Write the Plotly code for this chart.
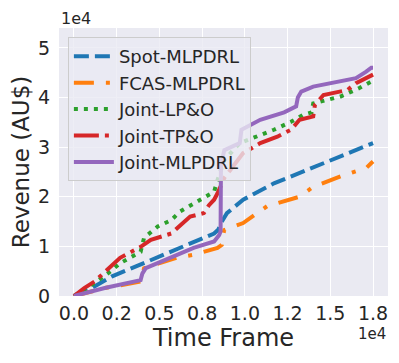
import plotly.graph_objects as go

# time frame and revenue (AU$)
spot_t = [0, 1200, 2200, 4100, 6000, 8200, 8450, 8600, 8950, 9900, 11700, 13600, 15600, 17500]
spot_v = [0, 1900, 3900, 6600, 9300, 12600, 13400, 14700, 16700, 19400, 22700, 25400, 28100, 30800]

fcas_t = [0, 1800, 3900, 4000, 4100, 6000, 7000, 8400, 8650, 8700, 8800, 9900, 10700, 11300,
          13200, 14000, 15600, 17100, 17400, 17500]
fcas_v = [0, 1600, 2900, 4500, 5600, 7700, 8300, 9700, 10300, 12000, 13300, 14700, 16700, 18100,
          20000, 22000, 24100, 25800, 26800, 27100]

lpo_t = [0, 1200, 2000, 2700, 3900, 4100, 4900, 5700, 6200, 7200, 8000, 8200, 8400, 8600, 8800,
         9700, 10700, 11700, 12700, 13400, 13900, 14000, 15600, 16700, 17500]
lpo_v = [0, 2600, 4600, 6600, 8900, 11700, 14000, 15300, 17000, 19000, 20700, 21000, 23400, 25500,
         27400, 30800, 32100, 33500, 35100, 36500, 37000, 38800, 40200, 41900, 43400]

tpo_t = [0, 600, 1200, 2700, 3900, 4500, 5700, 6800, 7600, 7900, 8200, 8400, 8800, 9900, 10900,
         11900, 12700, 13200, 14000, 14100, 14600, 16000, 16500, 17500]
tpo_v = [0, 1600, 2900, 7700, 9900, 11300, 12600, 16000, 16700, 18300, 19400, 20700, 23800, 28800,
         30800, 32100, 33500, 35500, 36200, 38500, 40500, 41500, 42900, 44600]

mlp_t = [0, 1800, 3900, 4000, 4200, 5100, 7000, 8200, 8500, 8580, 8600, 8800, 9700, 9800, 10900,
         12300, 13000, 13100, 13300, 14000, 16500, 17100, 17400, 17500]
mlp_v = [0, 1600, 3200, 4500, 5600, 6900, 9700, 11000, 12300, 13000, 26500, 29400, 30800, 33500,
         35500, 37000, 38200, 40000, 41200, 42200, 43900, 45200, 46000, 46000]

x_ticks = [0, 2500, 5000, 7500, 10000, 12500, 15000, 17500]
x_labels = ["0.0", "0.2", "0.5", "0.8", "1.0", "1.2", "1.5", "1.8"]
y_ticks = [0, 10000, 20000, 30000, 40000, 50000]
y_labels = ["0", "1", "2", "3", "4", "5"]

series = [
    ("Spot-MLPDRL", spot_t, spot_v, "#1f77b4", "15px,6px"),
    ("FCAS-MLPDRL", fcas_t, fcas_v, "#ff7f0e", "20px,12px,4px,12px"),
    ("Joint-LP&O", lpo_t, lpo_v, "#2ca02c", "4px,6px"),
    ("Joint-TP&O", tpo_t, tpo_v, "#d62728", "25px,6px,4px,6px"),
    ("Joint-MLPDRL", mlp_t, mlp_v, "#9467bd", "solid"),
]

font = "DejaVu Sans"
ink = "#262626"

fig = go.Figure()
for name, t, v, col, dash in series:
    fig.add_trace(go.Scatter(x=t, y=v, mode="lines", name=name,
                             line=dict(color=col, width=4, dash=dash)))

# page body has an 8px margin, so the figure is a bit smaller and offset
fig.update_layout(
    width=391, height=355,
    margin=dict(l=51, r=11, t=20, b=67),
    paper_bgcolor="white", plot_bgcolor="#EAEAF2",
    font=dict(family=font, color=ink, size=19),
    showlegend=True,
    legend=dict(x=0.027, y=0.966, xanchor="left", yanchor="top",
                bgcolor="rgba(234,234,242,0.8)", bordercolor="#cccccc", borderwidth=1,
                font=dict(size=18, color=ink), tracegroupgap=0, itemwidth=40),
)
fig.update_xaxes(range=[-875, 18375], tickvals=x_ticks, ticktext=x_labels,
                 showgrid=True, gridcolor="white", gridwidth=1.3, zeroline=False,
                 showline=False, ticks="", ticklabelstandoff=4, automargin=False,
                 tickfont=dict(size=19),
                 title=dict(text="Time Frame", font=dict(size=24), standoff=4))
fig.update_yaxes(range=[0, 54000], tickvals=y_ticks, ticktext=y_labels,
                 showgrid=True, gridcolor="white", gridwidth=1.3, zeroline=False,
                 showline=False, ticks="", ticklabelstandoff=8, automargin=False,
                 tickfont=dict(size=19),
                 title=dict(text="Revenue (AU$)", font=dict(size=23), standoff=6))
fig.add_annotation(text="1e4", xref="paper", yref="paper", x=0, y=1.034,
                   xanchor="left", yanchor="middle", showarrow=False,
                   font=dict(size=16, color=ink))
fig.add_annotation(text="1e4", xref="paper", yref="paper", x=1, y=-0.143,
                   xanchor="right", yanchor="middle", showarrow=False,
                   font=dict(size=15, color=ink))

fig.write_html("out.html")
